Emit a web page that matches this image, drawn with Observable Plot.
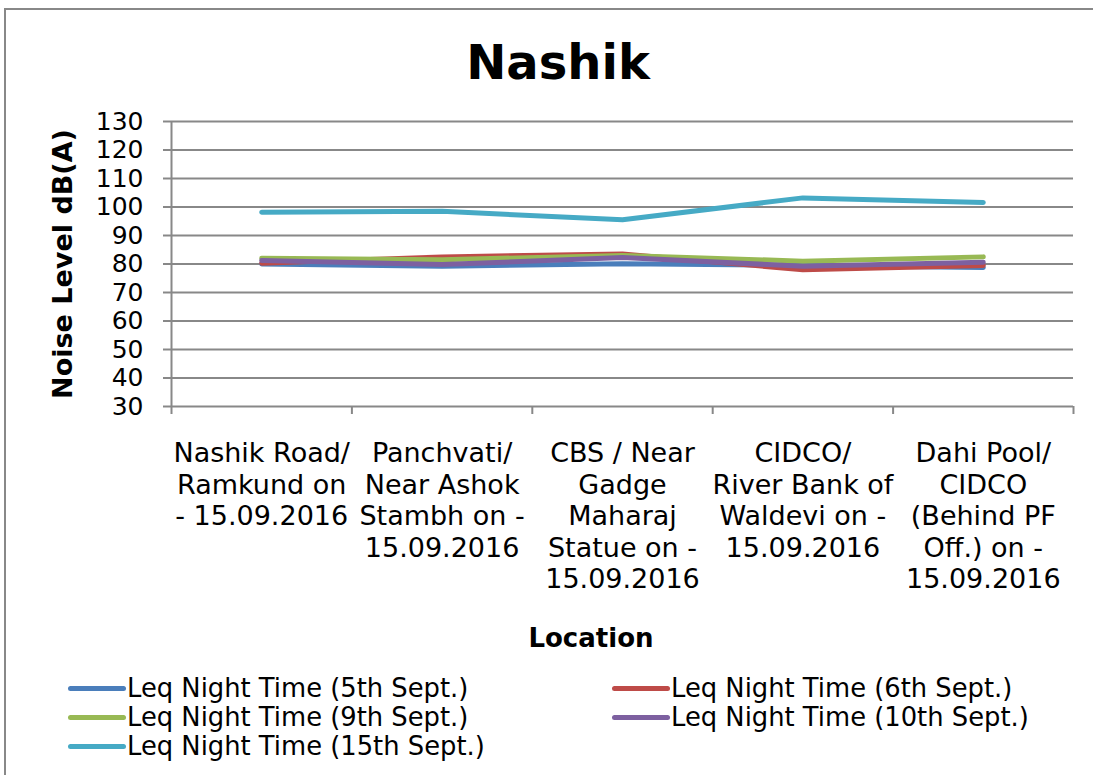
<!DOCTYPE html>
<html>
<head>
<meta charset="utf-8">
<script src="https://cdn.jsdelivr.net/npm/d3@7"></script>
<script src="https://cdn.jsdelivr.net/npm/@observablehq/plot@0.6"></script>
<style>
  html, body { margin: 0; padding: 0; background: #fff; overflow: hidden; }
  #wrap { position: relative; width: 1093px; height: 775px; overflow: hidden; font-family: "DejaVu Sans", Verdana, sans-serif; color: #000; }
  #frame { position: absolute; left: 4px; top: 8px; width: 1089px; height: 767px; border-left: 2px solid #888; border-top: 2px solid #888; box-sizing: border-box; }
  #title { position: absolute; left: 0; width: 1116px; top: 30px; text-align: center; font-size: 48px; font-weight: bold; line-height: 64px; }
  #chart { position: absolute; left: 0; top: 100px; }
  #xlabel { position: absolute; left: 0; width: 1182px; top: 620px; text-align: center; font-size: 26px; font-weight: bold; line-height: 36px; }
  .leg { position: absolute; display: flex; align-items: center; font-size: 25.8px; line-height: 29px; white-space: nowrap; }
  .sw { display: inline-block; width: 58px; height: 5px; border-radius: 3px; margin-right: 1px; }
</style>
</head>
<body>
<div id="wrap">
  <div id="frame"></div>
  <div id="title">Nashik</div>
  <div id="chart"></div>
  <div id="xlabel">Location</div>
  <div id="legend"></div>
</div>
<script>
const categories = [
  "Nashik Road/\nRamkund on\n- 15.09.2016",
  "Panchvati/\nNear Ashok\nStambh on -\n15.09.2016",
  "CBS / Near\nGadge\nMaharaj\nStatue on -\n15.09.2016",
  "CIDCO/\nRiver Bank of\nWaldevi on -\n15.09.2016",
  "Dahi Pool/\nCIDCO\n(Behind PF\nOff.) on -\n15.09.2016"
];
const seriesNames = [
  "Leq Night Time (5th Sept.)",
  "Leq Night Time (6th Sept.)",
  "Leq Night Time (9th Sept.)",
  "Leq Night Time (10th Sept.)",
  "Leq Night Time (15th Sept.)"
];
const seriesColors = ["#4a7ebb", "#be4b48", "#98b954", "#7d60a0", "#46aac5"];
const sept5  = [80.0, 79.2, 80.1, 79.5, 78.8];
const sept6  = [80.3, 82.5, 83.5, 78.0, 79.5];
const sept9  = [82.0, 81.5, 83.0, 81.0, 82.5];
const sept10 = [81.2, 79.8, 82.3, 79.2, 80.6];
const sept15 = [98.2, 98.5, 95.5, 103.2, 101.6];
const seriesValues = [sept5, sept6, sept9, sept10, sept15];
const yTicks = [30, 40, 50, 60, 70, 80, 90, 100, 110, 120, 130];

const rows = [];
seriesValues.forEach((vals, s) => vals.forEach((v, i) => rows.push({series: seriesNames[s], i: i + 0.5, v})));

const grid = "#888";
const chart = Plot.plot({
  width: 1093,
  height: 500,
  marginLeft: 171,
  marginRight: 20,
  marginTop: 21,
  marginBottom: 194,
  style: {fontFamily: "'DejaVu Sans', Verdana, sans-serif", fontSize: "24px", color: "#000", background: "transparent", overflow: "visible"},
  x: {domain: [0, categories.length], axis: null},
  y: {domain: [30, 130], axis: null},
  color: {domain: seriesNames, range: seriesColors},
  marks: [
    Plot.ruleY(yTicks.slice(1), {stroke: grid, strokeWidth: 2}),
    Plot.axisY({ticks: yTicks, tickSize: 8, tickPadding: 20, tickFormat: d => String(d), stroke: grid, strokeWidth: 2, strokeOpacity: 1, fontSize: 25, fill: "#000", label: null}),
    Plot.ruleX([0], {stroke: grid, strokeWidth: 2}),
    Plot.ruleY([30], {stroke: grid, strokeWidth: 2}),
    Plot.axisX({ticks: d3.range(categories.length + 1), tickSize: 8, tickFormat: () => "", stroke: grid, strokeWidth: 2, strokeOpacity: 1, label: null}),
    Plot.axisX({ticks: categories.map((c, i) => i + 0.5), tickSize: 0, tickPadding: 33, tickFormat: (d) => categories[Math.round(d - 0.5)], fontSize: 27, lineHeight: 1.17, fill: "#000", label: null}),
    Plot.line(rows, {x: "i", y: "v", z: "series", stroke: "series", strokeWidth: 5, strokeLinecap: "round", strokeLinejoin: "round", curve: "linear"}),
    Plot.text(["Noise Level dB(A)"], {frameAnchor: "left", textAnchor: "middle", rotate: -90, dx: -108, fontWeight: "bold", fontSize: 27, fill: "#000"})
  ]
});
document.getElementById("chart").appendChild(chart);

const legend = document.getElementById("legend");
const pos = [[68, 674], [612, 674], [68, 703], [612, 703], [68, 732]];
seriesNames.forEach((n, k) => {
  const d = document.createElement("div");
  d.className = "leg";
  d.style.left = pos[k][0] + "px";
  d.style.top = pos[k][1] + "px";
  const sw = document.createElement("span");
  sw.className = "sw";
  sw.style.background = seriesColors[k];
  const t = document.createElement("span");
  t.textContent = n;
  d.appendChild(sw);
  d.appendChild(t);
  legend.appendChild(d);
});
</script>
</body>
</html>
